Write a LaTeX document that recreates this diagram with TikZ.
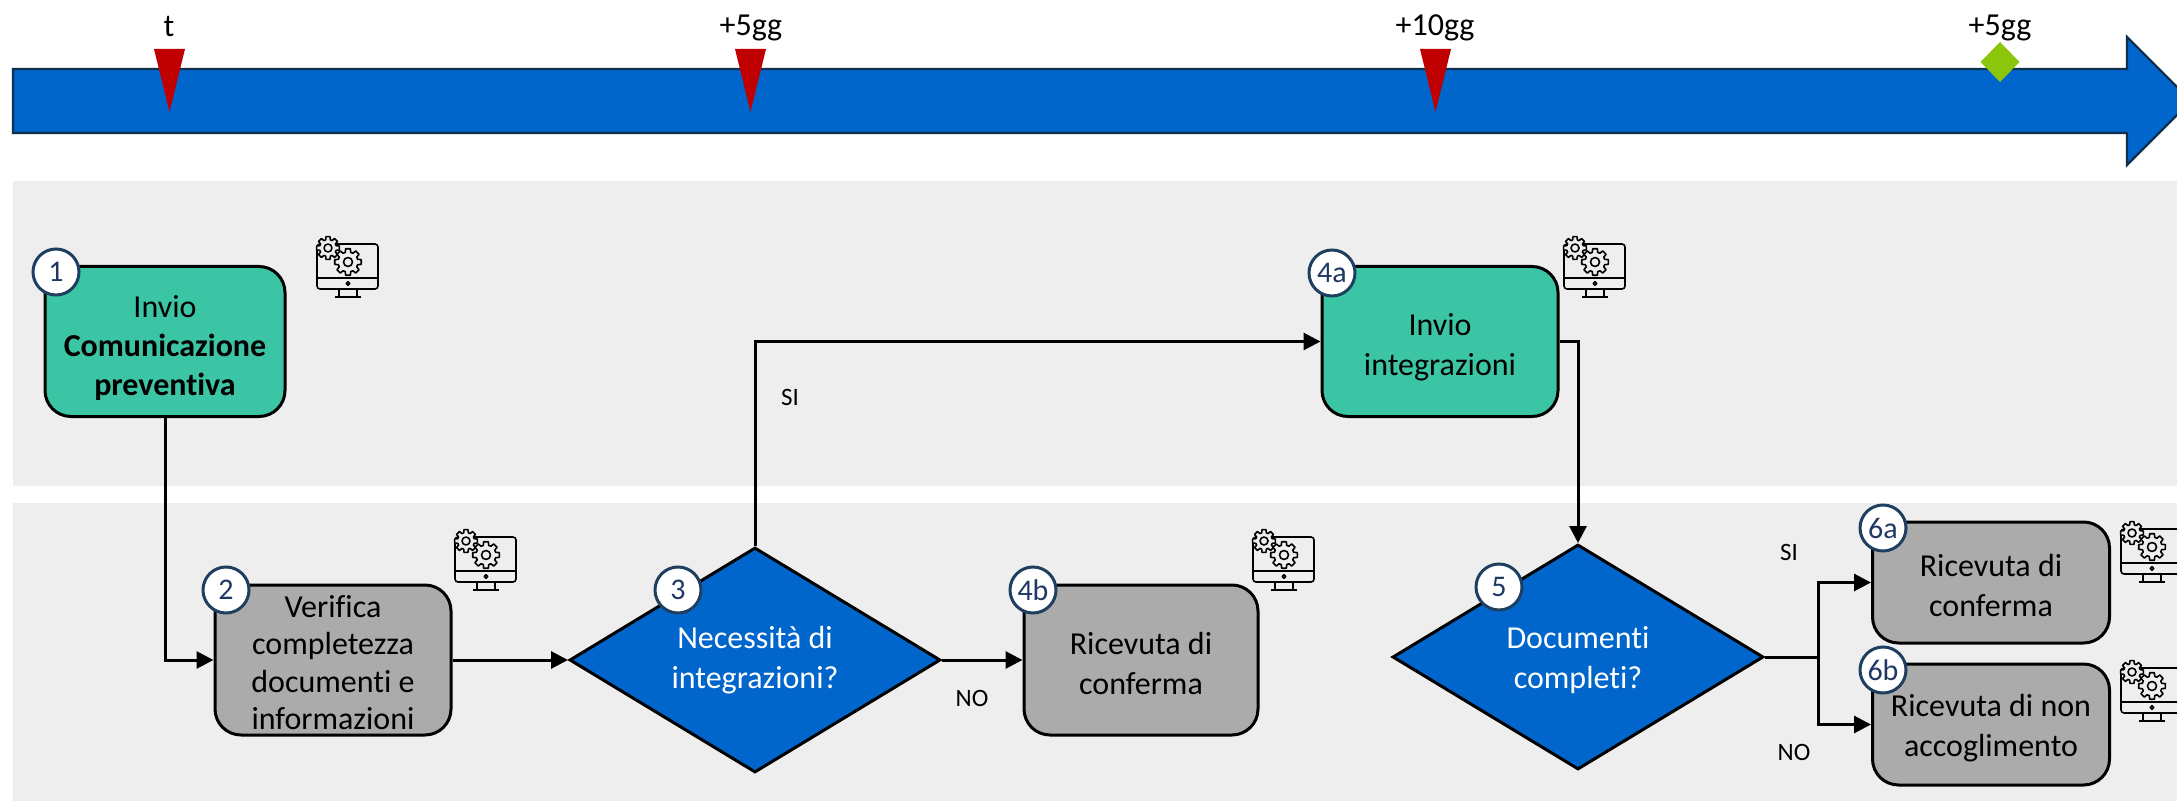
\documentclass[tikz,border=0pt]{standalone}
\usepackage{fontspec}
\setmainfont[Ligatures=NoCommon]{Carlito}
\usetikzlibrary{arrows.meta,shapes.geometric}
\definecolor{teal1}{HTML}{3CC5A5}
\definecolor{gray1}{HTML}{ABABAB}
\definecolor{blue1}{HTML}{0066CC}
\definecolor{band1}{HTML}{EEEEEE}
\definecolor{red1}{HTML}{C00000}
\definecolor{green1}{HTML}{8CC60A}
\definecolor{navy1}{HTML}{0F2F4F}
\definecolor{ring1}{HTML}{1F3F60}
\definecolor{num1}{HTML}{1F3864}
\newcommand{\mainfs}{\fontsize{32}{40}\selectfont}
\newcommand{\tightfs}{\fontsize{32}{37.5}\selectfont}
\newcommand{\lowstrut}[1]{\rule{0pt}{#1pt}}
\tikzset{
  x=1pt,y=-1pt,
  procbox/.style={draw=black,line width=3pt,rounded corners=26pt,align=center,inner sep=0pt,font=\mainfs,text=black},
  greenbox/.style={procbox,fill=teal1,minimum width=236pt,minimum height=150pt},
  graybox/.style={procbox,fill=gray1,minimum width=234pt,minimum height=150pt},
  graybox6/.style={procbox,fill=gray1,minimum width=237pt,minimum height=121pt},
  decision/.style={diamond,draw=black,line width=3pt,fill=blue1,text=white,align=center,inner sep=0pt,font=\mainfs,minimum width=371pt,minimum height=225pt,aspect=1.65},
  badge/.style={circle,draw=ring1,line width=3pt,fill=white,text=num1,inner sep=0pt,minimum size=46pt,font=\fontsize{30}{32}\selectfont},
  flow/.style={line width=3pt,draw=black,-{Triangle[length=17pt,width=17pt]}},
  plainflow/.style={line width=3pt,draw=black},
  lbl/.style={font=\fontsize{25}{28}\selectfont,text=black,inner sep=0pt},
  tl/.style={font=\fontsize{32}{34}\selectfont,text=black,inner sep=0pt},
  iconline/.style={draw=black,line width=1.6pt,line join=round}
}
\newcommand{\gearat}[5]{% x y inner outer hole
  \draw[iconline,fill=band1,shift={(#1,#2)}] (-16:#3) \foreach \a in {0,45,...,315}{ -- (\a-16:#3) -- (\a-10:#4) -- (\a+10:#4) -- (\a+16:#3)} -- cycle;
  \draw[iconline,shift={(#1,#2)}] (0,0) circle (#5);
}
\newcommand{\pcicon}[2]{%
  \begin{scope}[shift={(#1,#2)}]
    \draw[iconline,rounded corners=3pt] (0,0) rectangle (61,45);
    \draw[iconline] (0,34) -- (61,34);
    \draw[iconline] (31,39.5) circle (1.8);
    \draw[iconline] (18,53) -- (44,53);
    \draw[iconline] (22,46) -- (22,53) (40,46) -- (40,53);
    \gearat{11}{4}{8.5}{11.5}{4}
    \gearat{31}{18}{10}{13.5}{4.5}
  \end{scope}
}
\begin{document}
\begin{tikzpicture}
\useasboundingbox (0,0) rectangle (2177,802);
\fill[white] (0,0) rectangle (2177,802);
% bands
\fill[band1] (13,181) rectangle (2177,486);
\fill[band1] (13,503) rectangle (2177,801);
% timeline
\draw[draw=navy1,line width=2.4pt,fill=blue1,line join=miter]
  (13,69) -- (2127,69) -- (2127,37) -- (2191,101) -- (2127,165) -- (2127,133) -- (13,133) -- cycle;
\fill[red1] (154,49) -- (185,49) -- (169.5,112) -- cycle;
\fill[red1] (735,49) -- (766,49) -- (750.5,112) -- cycle;
\fill[red1] (1420,49) -- (1451,49) -- (1435.5,112) -- cycle;
\fill[green1] (2000,42) -- (2019.5,62) -- (2000,82) -- (1980.5,62) -- cycle;
\node[tl] (t0) at (169,27) {t};
\node[tl] (t1) at (751,28) {+5gg};
\node[tl] (t2) at (1435,28) {+10gg};
\node[tl] (t3) at (2000,28) {+5gg};
% nodes
\node[greenbox,minimum width=240pt,font=\fontsize{32}{39}\selectfont] (b1) at (165,341.5) {\lowstrut{36}Invio\\\textbf{Comunicazione}\\\textbf{preventiva}};
\node[graybox,minimum width=236pt,font=\tightfs] (b2) at (333,660) {\lowstrut{27}Verifica\\completezza\\documenti e\\informazioni};
\node[decision] (d3) at (755,660) {Necessità di\\integrazioni?};
\node[graybox] (b4b) at (1141,660) {\lowstrut{29}Ricevuta di\\conferma};
\node[greenbox] (b4a) at (1440,341.5) {\lowstrut{33}Invio\\integrazioni};
\node[decision] (d5) at (1578,657) {\lowstrut{28}Documenti\\completi?};
\node[graybox6] (b6a) at (1991,582.5) {\lowstrut{28}Ricevuta di\\conferma};
\node[graybox6] (b6b) at (1991,724.5) {\lowstrut{29}Ricevuta di non\\accoglimento};
\coordinate (j) at (1818,657);
% connectors
\draw[flow] (b1.south) |- (b2.west);
\draw[flow] (b2.east) -- (d3.west);
\draw[flow] (d3.north) |- (b4a.west);
\draw[flow] (d3.east) -- (b4b.west);
\draw[flow] (b4a.east) -| (d5.north);
\draw[plainflow] (d5.east) -- (j);
\draw[flow] (j) |- (b6a.west);
\draw[flow] (j) |- (b6b.west);
% labels
\node[lbl] (l1) at (790,397) {SI};
\node[lbl] (l2) at (972,698) {NO};
\node[lbl] (l3) at (1789,552) {SI};
\node[lbl] (l4) at (1794,752) {NO};
% badges
\node[badge] (c1) at (56,272) {1};
\node[badge] (c2) at (226,590) {2};
\node[badge] (c3) at (678,590) {3};
\node[badge] (c4b) at (1033,590) {4b};
\node[badge] (c4a) at (1332,273) {4a};
\node[badge] (c5) at (1499,587) {5};
\node[badge] (c6a) at (1883,528) {6a};
\node[badge] (c6b) at (1883,670) {6b};
% icons
\pcicon{317}{244}
\pcicon{455}{537}
\pcicon{1253}{537}
\pcicon{1564}{244}
\pcicon{2121}{529}
\pcicon{2121}{668}
\end{tikzpicture}
\end{document}
